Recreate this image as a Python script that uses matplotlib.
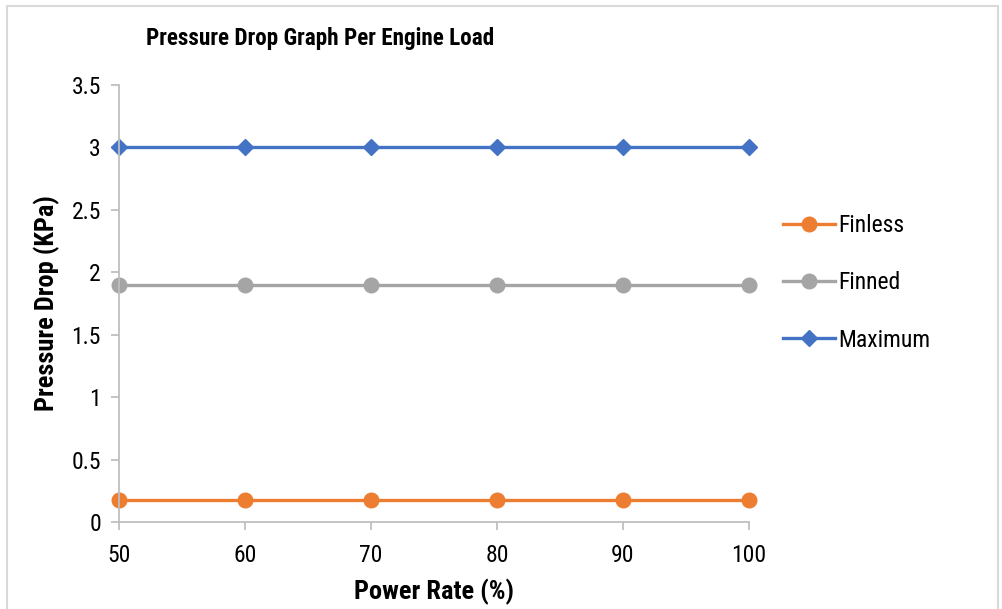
import matplotlib
matplotlib.use("Agg")

import matplotlib.pyplot as plt
from matplotlib.patches import Rectangle

# data
power_rate = [50, 60, 70, 80, 90, 100]
finless = [0.18, 0.18, 0.18, 0.18, 0.18, 0.18]
finned = [1.9, 1.9, 1.9, 1.9, 1.9, 1.9]
maximum = [3.0, 3.0, 3.0, 3.0, 3.0, 3.0]

plt.rcParams['font.family'] = ['Roboto Condensed', 'Liberation Sans Narrow',
                               'Liberation Sans', 'DejaVu Sans']

fig = plt.figure(figsize=(10.03, 6.09), dpi=100)
ax = fig.add_axes([0.1186, 0.1429, 0.628, 0.7175])

ax.plot(power_rate, finless, color='#ED7D31', lw=2.4, marker='o', ms=10.5, label='Finless')
ax.plot(power_rate, finned, color='#A5A5A5', lw=2.4, marker='o', ms=10.5, label='Finned')
ax.plot(power_rate, maximum, color='#4472C4', lw=2.4, marker='D', ms=8, label='Maximum')

ax.set_xlim(50, 100)
ax.set_ylim(0, 3.5)
ax.set_xticks(power_rate)
ax.set_yticks([0, 0.5, 1, 1.5, 2, 2.5, 3, 3.5])
ax.set_yticklabels(['0', '0.5', '1', '1.5', '2', '2.5', '3', '3.5'])
ax.tick_params(labelsize=17, color='#BFBFBF', length=6, width=1.3)
ax.tick_params(axis='x', pad=10)
ax.tick_params(axis='y', pad=7)
for s in ['top', 'right']:
    ax.spines[s].set_visible(False)
for s in ['left', 'bottom']:
    ax.spines[s].set_color('#BFBFBF')
    ax.spines[s].set_linewidth(1.3)
for m in ax.lines:
    m.set_clip_on(False)

ax.set_xlabel('Power Rate (%)', fontsize=19, fontweight='bold', labelpad=8)
ax.set_ylabel('Pressure Drop (KPa)', fontsize=19, fontweight='bold', labelpad=8)

fig.text(0.319, 0.936, 'Pressure Drop Graph Per Engine Load', fontsize=16.7,
         fontweight='bold', ha='center', va='center')

ax.legend(loc='center left', bbox_to_anchor=(1.02, 0.547), frameon=False,
          fontsize=17, handlelength=2.2, labelspacing=1.45, handletextpad=0.15)

# chart-area border
fig.patches.append(Rectangle((7 / 1003, -0.05), 991 / 1003, 1 - 6 / 609 + 0.05,
                             transform=fig.transFigure, fill=False,
                             edgecolor='#D9D9D9', lw=1.5))

fig.savefig('out.png', dpi=100)
